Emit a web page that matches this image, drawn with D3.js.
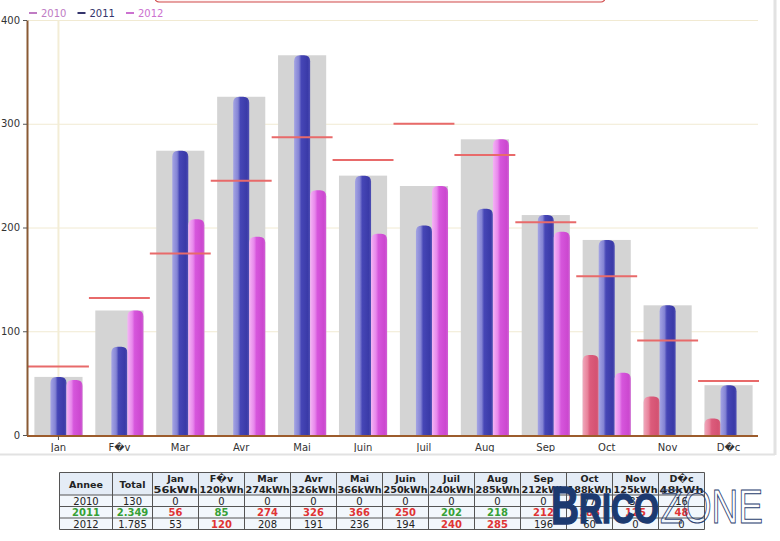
<!DOCTYPE html>
<html>
<head>
<meta charset="utf-8">
<script src="https://cdnjs.cloudflare.com/ajax/libs/d3/7.8.5/d3.min.js"></script>
<style>
body{margin:0;background:#fff;}
svg{display:block;font-family:"DejaVu Sans",Verdana,sans-serif;}
</style>
</head>
<body>
<svg id="chart" width="780" height="541"></svg>
<script>
// donnees
var months = ["Jan","F\uFFFDv","Mar","Avr","Mai","Juin","Juil","Aug","Sep","Oct","Nov","D\uFFFDc"];
var years = ["2010","2011","2012"];
var prod2010 = [0,0,0,0,0,0,0,0,0,77,37,16];
var prod2011 = [56,85,274,326,366,250,202,218,212,188,125,48];
var prod2012 = [53,120,208,191,236,194,240,285,196,60,0,0];
var bestMonth = [56,120,274,326,366,250,240,285,212,188,125,48];
var refLine = [66,132,175,245,287,265,300,270,205,153,91,52];
var totals = ["130","2.349","1.785"];
var yTicks = [0,100,200,300,400];

var series = [prod2010,prod2011,prod2012];
var grads = ['gPink','gBlue','gMag'];

var svg = d3.select('#chart');
var margin = {left:28,right:21,top:20,bottom:106};
var width = +svg.attr('width'), height = +svg.attr('height');
var innerwidth = width - margin.left - margin.right;
var innerheight = height - margin.top - margin.bottom;

var defs = svg.append('defs');
function grad(id, stops){
	var g = defs.append('linearGradient').attr('id',id).attr('x1','0%').attr('x2','100%');
	stops.forEach(s => g.append('stop').attr('offset',s[0]).attr('stop-color',s[1]));
}
grad('gBlue',[['0%','#a4a4e4'],['30%','#8484d4'],['45%','#4646b6'],['85%','#3a3aa8'],['100%','#5050b4']]);
grad('gMag',[['0%','#f4b4f4'],['30%','#e888ec'],['45%','#d656dc'],['85%','#cc48d0'],['100%','#d060d4']]);
grad('gPink',[['0%','#f0a8bc'],['30%','#e8849c'],['45%','#dc5c7c'],['85%','#d45272'],['100%','#d8647e']]);
defs.append('clipPath').attr('id','lblclip').append('rect')
	.attr('x',0).attr('y',0).attr('width',780).attr('height',452);

// cadre de la page
svg.append('rect').attr('x',155).attr('y',-10).attr('width',450).attr('height',12).attr('rx',4)
	.attr('fill','#fff4f4').attr('stroke','#d04848').attr('stroke-width',1.2);
svg.append('line').attr('x1',0).attr('x2',775).attr('y1',454.5).attr('y2',454.5).attr('stroke','#e2e2e2').attr('stroke-width',2);
svg.append('line').attr('x1',775).attr('x2',775).attr('y1',0).attr('y2',455).attr('stroke','#e2e2e2').attr('stroke-width',3);

var xscale = d3.scaleBand()
	.domain(months)
	.range([margin.left, margin.left + innerwidth])
	.paddingInner(0.21)
	.paddingOuter(0.105);
var sub = d3.scaleBand().domain(years).range([0, xscale.bandwidth()]);
var yscale = d3.scaleLinear().domain([0,400]).range([margin.top + innerheight, margin.top]);

var g = svg.append('g');

// grille
g.append('g').selectAll('line').data(yTicks.slice(1)).enter().append('line')
	.attr('x1',margin.left).attr('x2',758)
	.attr('y1',d => yscale(d)+0.5).attr('y2',d => yscale(d)+0.5)
	.attr('stroke','#f1ead2').attr('stroke-width',1);
g.append('line')
	.attr('x1',xscale(months[0]) + xscale.bandwidth()/2).attr('x2',xscale(months[0]) + xscale.bandwidth()/2)
	.attr('y1',margin.top).attr('y2',yscale(0))
	.attr('stroke','#f3edd6').attr('stroke-width',2);

// barres grises
g.append('g').selectAll('rect').data(bestMonth).enter().append('rect')
	.attr('x',(d,i) => xscale(months[i]))
	.attr('y',d => yscale(d))
	.attr('width',xscale.bandwidth())
	.attr('height',d => yscale(0) - yscale(d))
	.attr('fill','#d4d4d4');

// barres arrondies
function barPath(x, y0, y1, w){
	var r = Math.min(6, (y0 - y1));
	return 'M'+x+','+y0+'L'+x+','+(y1+r)+'Q'+x+','+y1+' '+(x+r)+','+y1+
		'L'+(x+w-r)+','+y1+'Q'+(x+w)+','+y1+' '+(x+w)+','+(y1+r)+'L'+(x+w)+','+y0+'Z';
}
series.forEach(function(vals, s){
	g.append('g').selectAll('path').data(vals.map((v,i)=>({v:v,m:months[i]})).filter(d => d.v > 0))
		.enter().append('path')
		.attr('d',d => barPath(xscale(d.m) + sub(years[s]), yscale(0), yscale(d.v), sub.bandwidth()))
		.attr('fill','url(#'+grads[s]+')');
});

// traits rouges
var step = xscale.step(), pad = (step - xscale.bandwidth())/2;
g.append('g').selectAll('line').data(refLine).enter().append('line')
	.attr('x1',(d,i) => xscale(months[i]) - pad)
	.attr('x2',(d,i) => xscale(months[i]) + xscale.bandwidth() + pad)
	.attr('y1',d => yscale(d)).attr('y2',d => yscale(d))
	.attr('stroke','#e86a6a').attr('stroke-width',2);

// axes
var yAxis = g.append('g').attr('transform','translate('+(margin.left-1)+',0)')
	.call(d3.axisLeft(yscale).tickValues(yTicks).tickSize(4).tickSizeOuter(0));
yAxis.select('.domain').attr('stroke','#8a5a34').attr('stroke-width',2);
yAxis.selectAll('.tick line').attr('stroke','#555');
yAxis.selectAll('text').attr('font-size',10).attr('fill','#333').attr('font-family','DejaVu Sans');

var xWrap = g.append('g').attr('clip-path','url(#lblclip)');
var xAxis = xWrap.append('g').attr('transform','translate(0,'+(yscale(0)+1)+')')
	.call(d3.axisBottom(xscale).tickSize(0).tickPadding(8));
xAxis.select('.domain').attr('d','M'+(margin.left-1)+',0H758').attr('stroke','#9c5c2c').attr('stroke-width',2);
xAxis.selectAll('text').attr('font-size',10).attr('fill','#333').attr('font-family','DejaVu Sans');
xAxis.append('line').attr('x1',xscale(months[0])+xscale.bandwidth()/2).attr('x2',xscale(months[0])+xscale.bandwidth()/2)
	.attr('y1',0).attr('y2',4).attr('stroke','#555');

// legende
var legColors = ['#c07cc4','#34346c','#cc72d0'];
var lg = svg.append('g').selectAll('g').data(years).enter().append('g')
	.attr('transform',(d,i) => 'translate('+(29 + i*48.5)+',13)');
lg.append('line').attr('x1',0).attr('x2',8).attr('y1',0).attr('y2',0)
	.attr('stroke',(d,i) => legColors[i]).attr('stroke-width',2);
lg.append('text').attr('x',12).attr('y',4).text(d => d)
	.attr('font-size',10).attr('fill',(d,i) => legColors[i]);

// tableau
var tx = 59.5, ty = 472.5;
var colW = [53,40].concat(months.map(() => 46));
var colX = [tx];
colW.forEach(w => colX.push(colX[colX.length-1] + w));
var rowY = [ty, ty+22.5, ty+34, ty+45.5, ty+57];
var tab = svg.append('g');
rowY.slice(0,-1).forEach(function(y, r){
	tab.append('rect').attr('x',tx).attr('y',y).attr('width',colX[colX.length-1]-tx).attr('height',rowY[r+1]-y)
		.attr('fill', r === 0 ? '#e4ecf6' : '#f2f7fc');
});
rowY.forEach(y => tab.append('line').attr('x1',tx).attr('x2',colX[colX.length-1]).attr('y1',y).attr('y2',y)
	.attr('stroke','#555').attr('stroke-width',1));
colX.forEach(x => tab.append('line').attr('x1',x).attr('x2',x).attr('y1',ty).attr('y2',rowY[rowY.length-1])
	.attr('stroke','#555').attr('stroke-width',1));
function cell(c, y, txt, opt){
	opt = opt || {};
	var t = tab.append('text').attr('x',(colX[c]+colX[c+1])/2).attr('y',y).attr('text-anchor','middle')
		.attr('font-size',opt.size || 10).attr('font-weight',opt.bold ? 'bold' : 'normal')
		.attr('fill',opt.color || '#222').text(txt);
	if (opt.fit) t.attr('textLength',opt.fit).attr('lengthAdjust','spacingAndGlyphs');
}
cell(0, ty+15, 'Annee', {bold:true, size:9.5});
cell(1, ty+15, 'Total', {bold:true, size:9.5});
months.forEach(function(m,i){
	cell(i+2, ty+9.5, m, {bold:true, size:9.5});
	cell(i+2, ty+20, bestMonth[i]+'kWh', {bold:true, size:9.5, fit:44});
});
var green = '#36a036', red = '#e03434';
series.forEach(function(vals, s){
	var y = rowY[s+1] + 9.5;
	var isMid = years[s] === '2011';
	cell(0, y, years[s], isMid ? {color:green, bold:true} : {});
	cell(1, y, totals[s], isMid ? {color:green, bold:true} : {});
	vals.forEach(function(v,i){
		var mx = d3.max(series, a => a[i]);
		var o = {};
		if (v > 0 && v === mx) o = {bold:true, color:red};
		else if (isMid) o = {bold:true, color:green};
		cell(i+2, y, v, o);
	});
});

// logo
var logo = svg.append('g').attr('font-family','Liberation Sans, Arial, sans-serif').attr('font-weight','bold');
logo.append('text').attr('x',551).attr('y',524).attr('font-size',54).attr('textLength',28)
	.attr('lengthAdjust','spacingAndGlyphs').attr('fill','#1c3a70')
	.attr('stroke','#1c3a70').attr('stroke-width',1.5).text('B');
logo.append('text').attr('x',579).attr('y',523).attr('font-size',42).attr('textLength',80)
	.attr('lengthAdjust','spacingAndGlyphs').attr('fill','#1c3a70')
	.attr('stroke','#1c3a70').attr('stroke-width',1.5).text('RICO');
logo.append('text').attr('x',660).attr('y',523).attr('font-size',48).attr('font-weight','normal').attr('textLength',103)
	.attr('lengthAdjust','spacingAndGlyphs').attr('fill','none').attr('stroke','#2a4070').attr('stroke-width',1).text('ZONE');
</script>
</body>
</html>
